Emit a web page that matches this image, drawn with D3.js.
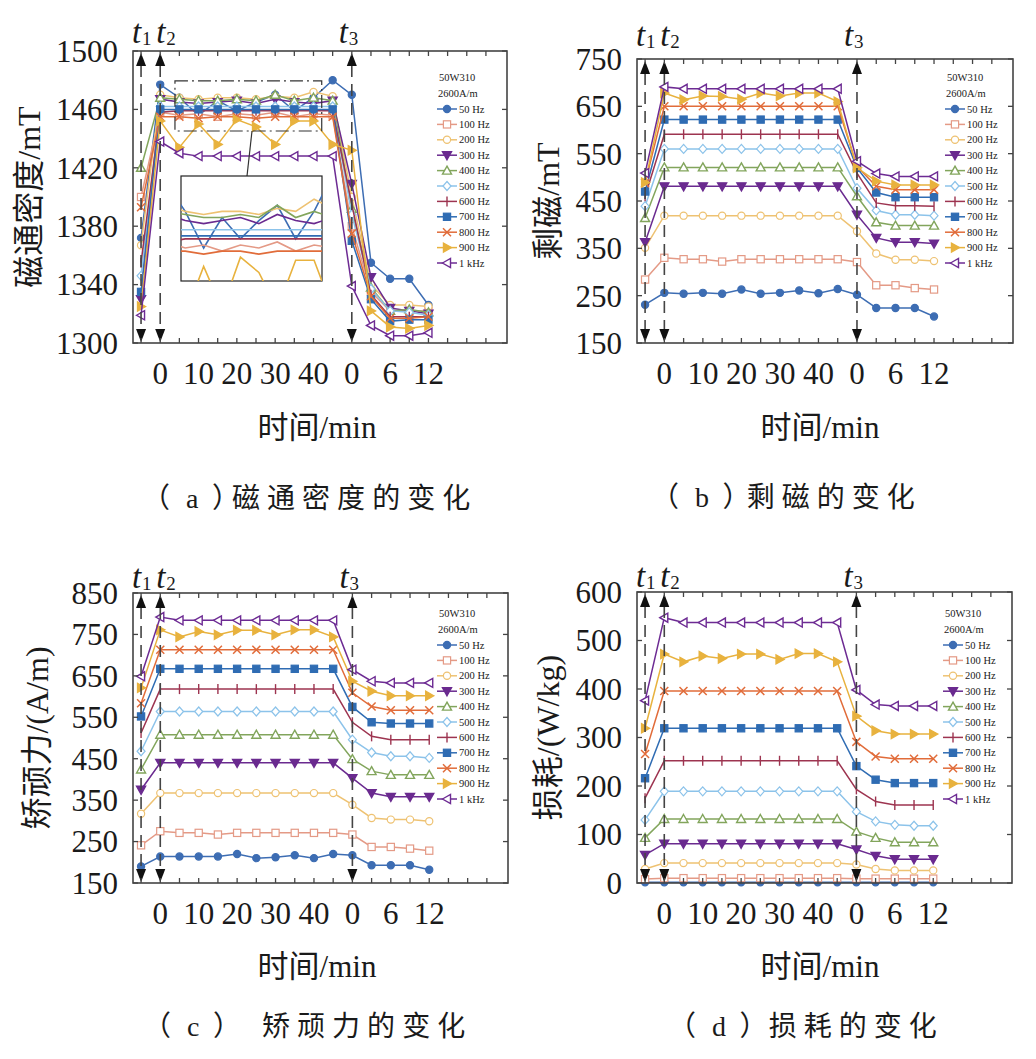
<!DOCTYPE html>
<html>
<head>
<meta charset="utf-8">
<script src="https://cdnjs.cloudflare.com/ajax/libs/d3/7.8.5/d3.min.js"></script>
<style>
body { margin: 0; background: #fff; }
svg text { font-family: "Liberation Serif", "Noto Sans CJK SC", serif; fill: #1a1a1a; }
</style>
</head>
<body>
<svg id="chart" width="1036" height="1059"></svg>
<script>
// series labels, colours and marker shapes (same for all four panels)
var freqLabels = ["50 Hz", "100 Hz", "200 Hz", "300 Hz", "400 Hz", "500 Hz",
                  "600 Hz", "700 Hz", "800 Hz", "900 Hz", "1 kHz"];
var seriesColors = ["#3d6db3", "#e49a86", "#eec272", "#6a2a8f", "#82a55c", "#8cc3ea",
                    "#9d3450", "#2f6cb3", "#e16c3a", "#e8b23e", "#6d2b93"];
var markerTypes = ["circleF", "squareO", "circleO", "triDownF", "triUpO", "diamondO",
                   "vbar", "squareF", "cross", "triRightF", "triLeftO"];

// x positions are point indices: 0 = t1, 1..10 = 0..45 min, 11..15 = 0..12 min after t3
var xTickIndex = [1, 3, 5, 7, 9, 11, 13, 15];
var xTickText = ["0", "10", "20", "30", "40", "0", "6", "12"];
var tIndex = [0, 1, 11];
var tSub = ["1", "2", "3"];

var yTicksA = [1300, 1340, 1380, 1420, 1460, 1500];
var yTicksB = [150, 250, 350, 450, 550, 650, 750];
var yTicksC = [150, 250, 350, 450, 550, 650, 750, 850];
var yTicksD = [0, 100, 200, 300, 400, 500, 600];

// (a) flux density, mT
var fluxDensity = [
  [1372, 1477, 1468, 1456, 1466, 1459, 1465, 1470, 1459, 1468, 1480, 1470, 1355, 1344, 1344, 1326],
  [1400, 1458, 1456, 1457, 1455, 1457, 1456, 1458, 1455, 1457, 1456, 1380, 1335, 1322, 1322, 1322],
  [1367, 1470, 1468, 1467, 1468, 1468, 1467, 1469, 1468, 1472, 1469, 1400, 1340, 1326, 1326, 1325],
  [1330, 1467, 1465, 1464, 1465, 1466, 1464, 1467, 1465, 1464, 1466, 1409, 1345, 1324, 1322, 1320],
  [1420, 1468, 1467, 1466, 1466, 1467, 1466, 1470, 1466, 1468, 1466, 1392, 1338, 1322, 1323, 1321],
  [1346, 1462, 1462, 1462, 1462, 1462, 1462, 1462, 1462, 1462, 1462, 1388, 1337, 1322, 1321, 1319],
  [1355, 1458, 1459, 1459, 1459, 1459, 1459, 1459, 1459, 1459, 1459, 1395, 1333, 1318, 1318, 1318],
  [1335, 1460, 1460, 1460, 1460, 1460, 1460, 1460, 1460, 1460, 1460, 1370, 1330, 1315, 1316, 1316],
  [1393, 1455, 1455, 1454, 1455, 1455, 1454, 1455, 1455, 1455, 1455, 1375, 1332, 1317, 1317, 1318],
  [1325, 1452, 1434, 1450, 1436, 1453, 1448, 1436, 1452, 1452, 1436, 1432, 1322, 1311, 1310, 1312],
  [1319, 1438, 1430, 1428, 1428, 1428, 1428, 1428, 1428, 1428, 1428, 1339, 1312, 1305, 1305, 1307]
];

// (b) remanence, mT
var remanence = [
  [231, 256, 254, 256, 254, 263, 254, 256, 261, 255, 264, 252, 224, 224, 224, 206],
  [284, 330, 327, 327, 322, 327, 327, 327, 327, 327, 327, 321, 272, 272, 266, 263],
  [351, 419, 419, 419, 419, 419, 419, 419, 419, 419, 419, 386, 339, 326, 326, 323],
  [363, 481, 481, 481, 481, 481, 481, 481, 481, 481, 481, 421, 372, 363, 363, 360],
  [414, 521, 521, 521, 521, 521, 521, 521, 521, 521, 521, 460, 405, 398, 398, 398],
  [439, 560, 560, 560, 560, 560, 560, 560, 560, 560, 560, 477, 430, 421, 421, 419],
  [460, 591, 591, 591, 591, 591, 591, 591, 591, 591, 591, 509, 446, 440, 440, 439],
  [470, 622, 622, 622, 622, 622, 622, 622, 622, 622, 622, 520, 468, 458, 458, 458],
  [488, 650, 650, 650, 650, 650, 650, 650, 650, 650, 650, 523, 481, 474, 474, 474],
  [489, 678, 664, 672, 671, 665, 678, 672, 678, 678, 660, 520, 492, 484, 484, 484],
  [509, 691, 687, 687, 687, 687, 687, 687, 687, 687, 687, 534, 508, 502, 502, 502]
];

// (c) coercivity, A/m
var coercivity = [
  [190, 214, 214, 214, 214, 220, 210, 212, 217, 210, 220, 217, 193, 193, 193, 182],
  [241, 275, 271, 271, 267, 271, 271, 271, 271, 271, 271, 267, 237, 237, 233, 228],
  [317, 367, 367, 367, 367, 367, 367, 367, 367, 367, 367, 339, 307, 303, 303, 299],
  [375, 440, 440, 440, 440, 440, 440, 440, 440, 440, 440, 403, 367, 358, 358, 358],
  [424, 508, 508, 508, 508, 508, 508, 508, 508, 508, 508, 449, 420, 411, 411, 411],
  [468, 564, 564, 564, 564, 564, 564, 564, 564, 564, 564, 496, 465, 456, 456, 452],
  [512, 618, 618, 618, 618, 618, 618, 618, 618, 618, 618, 538, 504, 496, 496, 496],
  [552, 667, 667, 667, 667, 667, 667, 667, 667, 667, 667, 575, 538, 535, 535, 535],
  [584, 713, 713, 713, 713, 713, 713, 713, 713, 713, 713, 609, 576, 567, 567, 567],
  [621, 761, 744, 757, 749, 760, 760, 749, 761, 761, 744, 637, 613, 602, 602, 602],
  [649, 792, 784, 784, 784, 784, 784, 784, 784, 784, 784, 665, 637, 633, 633, 633]
];

// (d) core loss, W/kg
var coreLoss = [
  [1.5, 1.5, 1.5, 1.5, 1.5, 1.5, 1.5, 1.5, 1.5, 1.5, 1.5, 1.5, 1.5, 1.5, 1.5, 1.5],
  [8, 10, 10, 10, 10, 10, 10, 10, 10, 10, 10, 9, 9, 9, 9, 9],
  [29, 41, 41, 41, 41, 41, 41, 41, 41, 41, 41, 38, 29, 26, 26, 26],
  [58, 81, 81, 81, 81, 81, 81, 81, 81, 81, 81, 69, 56, 49, 49, 49],
  [93, 132, 132, 132, 132, 132, 132, 132, 132, 132, 132, 106, 93, 84, 84, 84],
  [130, 189, 189, 189, 189, 189, 189, 189, 189, 189, 189, 147, 127, 120, 118, 118],
  [175, 252, 252, 252, 252, 252, 252, 252, 252, 252, 252, 193, 168, 161, 161, 161],
  [216, 319, 319, 319, 319, 319, 319, 319, 319, 319, 319, 241, 213, 206, 206, 206],
  [266, 396, 396, 396, 396, 396, 396, 396, 396, 396, 396, 291, 261, 256, 256, 256],
  [319, 472, 456, 468, 463, 472, 472, 461, 473, 473, 456, 344, 314, 307, 307, 307],
  [376, 547, 537, 537, 537, 537, 537, 537, 537, 537, 537, 398, 368, 365, 365, 365]
];

var panels = [
  {data: fluxDensity, yTicks: yTicksA, left: 133, right: 507, top: 51, bottom: 343,
   yTitle: "磁通密度/mT", yTitleX: 29, legX: 437, legY: 77, tBase: 43,
   xTitleX: 317, xTitleY: 427, capY: 498, capTag: "（a）", capText: "磁通密度的变化",
   capTagX: 142, capTextX: 232, inset: true},
  {data: remanence, yTicks: yTicksB, left: 637, right: 1013, top: 59, bottom: 343,
   yTitle: "剩磁/mT", yTitleX: 548, legX: 945, legY: 77, tBase: 46,
   xTitleX: 820, xTitleY: 427, capY: 497, capTag: "（b）", capText: "剩磁的变化",
   capTagX: 651, capTextX: 745},
  {data: coercivity, yTicks: yTicksC, left: 133, right: 508, top: 593, bottom: 883,
   yTitle: "矫顽力/(A/m)", yTitleX: 37, legX: 437, legY: 613, tBase: 588,
   xTitleX: 317, xTitleY: 966, capY: 1026, capTag: "（c）", capText: "矫顽力的变化",
   capTagX: 143, capTextX: 262},
  {data: coreLoss, yTicks: yTicksD, left: 637, right: 1012, top: 592, bottom: 883,
   yTitle: "损耗/(W/kg)", yTitleX: 548, legX: 943, legY: 613, tBase: 587,
   xTitleX: 820, xTitleY: 966, capY: 1026, capTag: "（d）", capText: "损耗的变化",
   capTagX: 668, capTextX: 767}
];

// horizontal nudges of the t labels relative to their arrows
var tShift = [-6, -1, -10];

var svg = d3.select("#chart");

function drawMarker(g, type, color, x, y) {
  var fill = /F$/.test(type) ? color : "#fff";
  var s = 3.6;
  if (type == "circleF" || type == "circleO") {
    g.append("circle").attr("cx", x).attr("cy", y).attr("r", s)
      .attr("fill", fill).attr("stroke", color).attr("stroke-width", 1.2);
  } else if (type == "squareF" || type == "squareO") {
    g.append("rect").attr("x", x - s).attr("y", y - s).attr("width", 2 * s).attr("height", 2 * s)
      .attr("fill", fill).attr("stroke", color).attr("stroke-width", 1.2);
  } else if (type == "diamondO") {
    g.append("path").attr("d", "M" + x + "," + (y - 4.5) + "L" + (x + 4) + "," + y + "L" + x + "," + (y + 4.5) + "L" + (x - 4) + "," + y + "Z")
      .attr("fill", fill).attr("stroke", color).attr("stroke-width", 1.2);
  } else if (type == "vbar") {
    g.append("line").attr("x1", x).attr("x2", x).attr("y1", y - 5).attr("y2", y + 5)
      .attr("stroke", color).attr("stroke-width", 1.4);
  } else if (type == "cross") {
    g.append("path").attr("d", "M" + (x - 4) + "," + (y - 4) + "L" + (x + 4) + "," + (y + 4) + "M" + (x - 4) + "," + (y + 4) + "L" + (x + 4) + "," + (y - 4))
      .attr("stroke", color).attr("stroke-width", 1.5).attr("fill", "none");
  } else {
    var p;
    if (type == "triUpO") p = [[x, y - 4.5], [x + 4.5, y + 3.5], [x - 4.5, y + 3.5]];
    if (type == "triDownF") p = [[x, y + 4.5], [x + 4.5, y - 3.5], [x - 4.5, y - 3.5]];
    if (type == "triRightF") p = [[x + 4.5, y], [x - 3.5, y - 4.5], [x - 3.5, y + 4.5]];
    if (type == "triLeftO") p = [[x - 4.5, y], [x + 3.5, y - 4.5], [x + 3.5, y + 4.5]];
    g.append("path").attr("d", "M" + p.join("L") + "Z")
      .attr("fill", fill).attr("stroke", color).attr("stroke-width", 1.4);
  }
}

function drawPanel(p, pi) {
  var g = svg.append("g");
  var xScale = d3.scaleLinear().domain([-0.42, 19.1]).range([p.left, p.right]);
  var yScale = d3.scaleLinear().domain([p.yTicks[0], p.yTicks[p.yTicks.length - 1]]).range([p.bottom, p.top]);

  var line = d3.line()
    .x(function(d, i) { return xScale(i); })
    .y(function(d) { return yScale(d); });

  // series
  p.data.forEach(function(vals, s) {
    var sg = g.append("g");
    sg.append("path").datum(vals).attr("d", line)
      .attr("fill", "none").attr("stroke", seriesColors[s]).attr("stroke-width", 1.5);
    vals.forEach(function(v, i) {
      drawMarker(sg, markerTypes[s], seriesColors[s], xScale(i), yScale(v));
    });
  });

  // zoomed inset for panel (a)
  if (p.inset) {
    var bx0 = xScale(1.77), bx1 = xScale(9.43), by0 = yScale(1479.6), by1 = yScale(1445.2);
    g.append("rect").attr("x", bx0).attr("y", by0).attr("width", bx1 - bx0).attr("height", by1 - by0)
      .attr("fill", "none").attr("stroke", "#333").attr("stroke-width", 1.2)
      .attr("stroke-dasharray", "13,4,2,4");
    var ix0 = 181, ix1 = 322, iy0 = 176, iy1 = 281;
    g.append("line").attr("x1", 252).attr("y1", by1).attr("x2", 247).attr("y2", iy0)
      .attr("stroke", "#333").attr("stroke-width", 1.2);
    g.append("rect").attr("x", ix0).attr("y", iy0).attr("width", ix1 - ix0).attr("height", iy1 - iy0)
      .attr("fill", "#fff").attr("stroke", "#222").attr("stroke-width", 1.2);
    svg.append("clipPath").attr("id", "insetClip").append("rect")
      .attr("x", ix0).attr("y", iy0).attr("width", ix1 - ix0).attr("height", iy1 - iy0);
    var sx = d3.scaleLinear().domain([1.77, 9.43]).range([ix0, ix1]);
    var sy = d3.scaleLinear().domain([1445.2, 1479.6]).range([iy1, iy0]);
    var insetLine = d3.line().x(function(d, i) { return sx(i); }).y(function(d) { return sy(d); });
    var ig = g.append("g").attr("clip-path", "url(#insetClip)");
    p.data.forEach(function(vals, s) {
      ig.append("path").datum(vals).attr("d", insetLine)
        .attr("fill", "none").attr("stroke", seriesColors[s]).attr("stroke-width", 1.6);
    });
  }

  // t1, t2, t3 dashed double arrows
  tIndex.forEach(function(ti, k) {
    var x = xScale(ti);
    g.append("line").attr("x1", x).attr("x2", x).attr("y1", p.top + 14).attr("y2", p.bottom - 12)
      .attr("stroke", "#444").attr("stroke-width", 1.6).attr("stroke-dasharray", "12,7");
    g.append("path").attr("d", "M" + x + "," + (p.top + 2) + "L" + (x + 5) + "," + (p.top + 15) + "L" + (x - 5) + "," + (p.top + 15) + "Z")
      .attr("fill", "#111");
    g.append("path").attr("d", "M" + x + "," + (p.bottom - 1) + "L" + (x + 5) + "," + (p.bottom - 14) + "L" + (x - 5) + "," + (p.bottom - 14) + "Z")
      .attr("fill", "#111");
    var tx = x + tShift[k];
    g.append("text").attr("x", tx - 3).attr("y", p.tBase)
      .attr("font-size", 33).attr("font-style", "italic").text("t");
    g.append("text").attr("x", tx + 7).attr("y", p.tBase + 2)
      .attr("font-size", 19).text(tSub[k]);
  });

  // frame and ticks
  g.append("rect").attr("x", p.left).attr("y", p.top)
    .attr("width", p.right - p.left).attr("height", p.bottom - p.top)
    .attr("fill", "none").attr("stroke", "#444").attr("stroke-width", 1.6);

  d3.range(0, 19).forEach(function(i) {
    var x = xScale(i);
    g.append("line").attr("x1", x).attr("x2", x).attr("y1", p.bottom).attr("y2", p.bottom - 5)
      .attr("stroke", "#444").attr("stroke-width", 1.3);
    g.append("line").attr("x1", x).attr("x2", x).attr("y1", p.top).attr("y2", p.top + 5)
      .attr("stroke", "#444").attr("stroke-width", 1.3);
  });

  p.yTicks.forEach(function(v) {
    var y = yScale(v);
    g.append("line").attr("x1", p.left).attr("x2", p.left + 5).attr("y1", y).attr("y2", y)
      .attr("stroke", "#444").attr("stroke-width", 1.3);
    g.append("line").attr("x1", p.right).attr("x2", p.right - 5).attr("y1", y).attr("y2", y)
      .attr("stroke", "#444").attr("stroke-width", 1.3);
    g.append("text").attr("x", p.left - 15).attr("y", y).attr("dy", "0.35em")
      .attr("text-anchor", "end").attr("font-size", 31).text(v);
  });

  xTickIndex.forEach(function(ti, k) {
    g.append("text").attr("x", xScale(ti)).attr("y", p.bottom + 41)
      .attr("text-anchor", "middle").attr("font-size", 31).text(xTickText[k]);
  });

  // titles
  g.append("text")
    .attr("transform", "translate(" + p.yTitleX + "," + ((p.top + p.bottom) / 2) + ") rotate(-90)")
    .attr("text-anchor", "middle").attr("dy", "0.35em").attr("font-size", 32).text(p.yTitle);
  g.append("text").attr("x", p.xTitleX).attr("y", p.xTitleY).attr("dy", "0.35em")
    .attr("text-anchor", "middle").attr("font-size", 31).text("时间/min");

  // caption: one text, glyphs spread with per-character dx
  var capChars = Array.from(p.capTag + p.capText);
  var capDx = capChars.map(function(c, i) {
    if (i == 0) return 0;
    if (i == 1) return 16;
    if (i == 2) return 13.6;
    if (i == 3) return p.capTextX - p.capTagX - 98;
    return 7;
  });
  g.append("text").attr("x", p.capTagX).attr("y", p.capY).attr("dy", "0.35em")
    .attr("font-size", 28).attr("dx", capDx.join(" ")).text(p.capTag + p.capText);

  // legend
  var lg = g.append("g");
  lg.append("text").attr("x", p.legX + 2).attr("y", p.legY).attr("dy", "0.35em")
    .attr("font-size", 10.5).attr("fill", "#333").text("50W310");
  lg.append("text").attr("x", p.legX + 1).attr("y", p.legY + 16).attr("dy", "0.35em")
    .attr("font-size", 10.5).attr("fill", "#333").text("2600A/m");
  freqLabels.forEach(function(f, s) {
    var y = p.legY + 32 + s * 15.4;
    lg.append("line").attr("x1", p.legX).attr("x2", p.legX + 20).attr("y1", y).attr("y2", y)
      .attr("stroke", seriesColors[s]).attr("stroke-width", 1.5);
    drawMarker(lg, markerTypes[s], seriesColors[s], p.legX + 10, y);
    lg.append("text").attr("x", p.legX + 22).attr("y", y).attr("dy", "0.35em")
      .attr("font-size", 10.5).attr("fill", "#333").text(f);
  });
}

panels.forEach(drawPanel);
</script>
</body>
</html>
